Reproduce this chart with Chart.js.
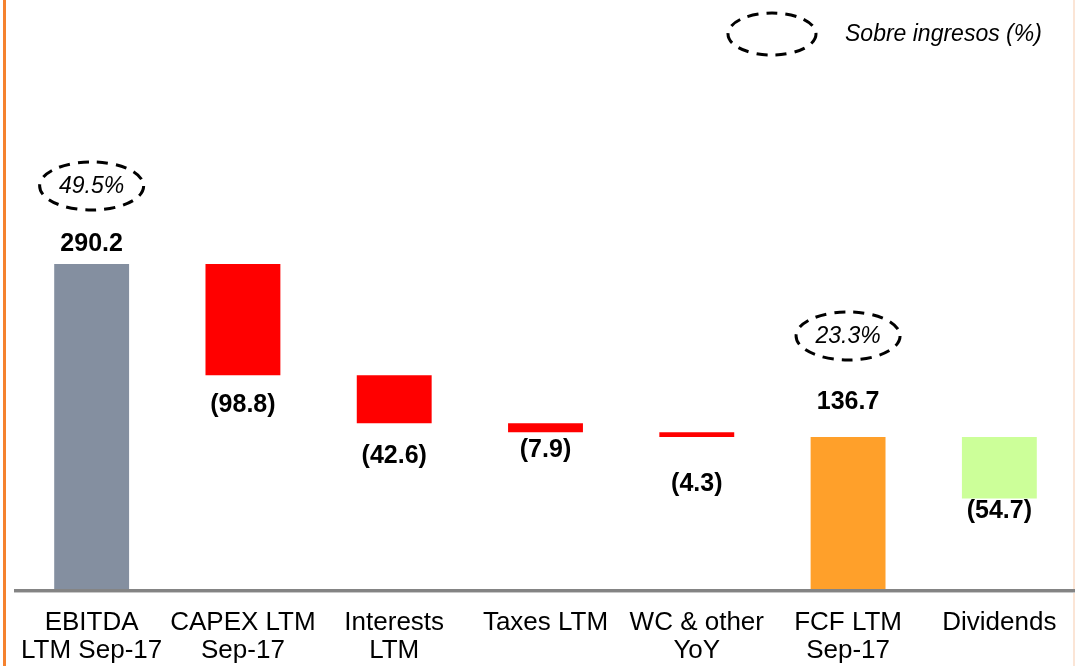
<!DOCTYPE html>
<html>
<head>
<meta charset="utf-8">
<script src="https://cdn.jsdelivr.net/npm/chart.js@4"></script>
<style>
    html, body { margin: 0; padding: 0; background: #fff; overflow: hidden; }
    #wrap { position: relative; width: 1075px; height: 666px; }
</style>
</head>
<body>
<div id="wrap"><canvas id="chart"></canvas></div>
<script>
// Chart data
const categories = [
    ["EBITDA", "LTM Sep-17"],
    ["CAPEX LTM", "Sep-17"],
    ["Interests", "LTM"],
    "Taxes LTM",
    ["WC & other", "YoY"],
    ["FCF LTM", "Sep-17"],
    "Dividends"
];
const totals = [290.2, null, null, null, null, 136.7, null];
const changes = [null, -98.8, -42.6, -7.9, -4.3, null, -54.7];
const valueLabels = ["290.2", "(98.8)", "(42.6)", "(7.9)", "(4.3)", "136.7", "(54.7)"];
const marginLabels = ["49.5%", null, null, null, null, "23.3%", null];
const legendText = "Sobre ingresos (%)";

const barColors = ["#848FA0", "#FF0000", "#FF0000", "#FF0000", "#FF0000", "#FFA02A", "#CCFF99"];

// Build floating ranges for the waterfall
let level = 0;
const ranges = categories.map((_, i) => {
    if (totals[i] !== null) {
        level = totals[i];
        return [0, totals[i]];
    }
    const start = level;
    level = level + changes[i];
    return [level, start];
});

// label offsets (px) from the bar edge: negative = above top, positive = below bottom
const labelOffsets = [-20, 30, 33, 18, 47, -35, 13];
const ellipseOffsets = [78, null, null, null, null, 101, null];

const FONT = "'Liberation Sans', Arial, sans-serif";

function dashedEllipse(ctx, cx, cy, rx, ry) {
    ctx.save();
    ctx.beginPath();
    ctx.ellipse(cx, cy, rx, ry, 0, 0, Math.PI * 2);
    ctx.setLineDash([11, 8]);
    ctx.lineWidth = 3;
    ctx.strokeStyle = "#000";
    ctx.stroke();
    ctx.restore();
}

const annotations = {
    id: "annotations",
    beforeDraw(chart) {
        const { ctx, width, height } = chart;
        ctx.save();
        ctx.fillStyle = "#fff";
        ctx.fillRect(0, 0, width, height);
        // orange frame line on the left, faint one on the right
        ctx.fillStyle = "#F5822F";
        ctx.fillRect(3, 0, 3, height);
        ctx.fillStyle = "#FBE5D6";
        ctx.fillRect(1073, 0, 2, height);
        ctx.restore();
    },
    afterDatasetsDraw(chart) {
        const { ctx } = chart;
        const yScale = chart.scales.y;
        const zero = yScale.getPixelForValue(0);

        // baseline
        ctx.save();
        ctx.fillStyle = "#848484";
        ctx.fillRect(14, zero - 2, 1061, 3);
        ctx.fillStyle = "#C8C8C8";
        ctx.fillRect(14, zero + 1, 1061, 1);
        ctx.restore();

        const meta = chart.getDatasetMeta(0);
        ctx.save();
        ctx.textAlign = "center";
        ctx.textBaseline = "middle";
        meta.data.forEach((bar, i) => {
            const top = Math.min(bar.y, bar.base);
            const bottom = Math.max(bar.y, bar.base);
            const off = labelOffsets[i];
            const y = off < 0 ? top + off : bottom + off;
            ctx.font = "bold 25px " + FONT;
            ctx.fillStyle = "#000";
            ctx.fillText(valueLabels[i], bar.x, y);

            if (marginLabels[i]) {
                const ey = top - ellipseOffsets[i];
                dashedEllipse(ctx, bar.x, ey, 52, 24);
                ctx.font = "italic 23px " + FONT;
                ctx.fillStyle = "#000";
                ctx.fillText(marginLabels[i], bar.x, ey + 1);
            }
        });

        // legend for the ellipses
        dashedEllipse(ctx, 772, 34, 44, 21);
        ctx.textAlign = "left";
        ctx.font = "italic 23px " + FONT;
        ctx.fillText(legendText, 845, 35);
        ctx.restore();
    }
};

const ctx = document.getElementById("chart").getContext("2d");
new Chart(ctx, {
    type: "bar",
    data: {
        labels: categories,
        datasets: [{
            data: ranges,
            backgroundColor: barColors,
            borderWidth: 0,
            categoryPercentage: 1,
            barPercentage: 0.495
        }]
    },
    options: {
        responsive: true,
        maintainAspectRatio: false,
        animation: false,
        layout: { padding: { left: 16, right: 0, top: 0, bottom: 0 } },
        plugins: {
            legend: { display: false },
            tooltip: { enabled: false }
        },
        scales: {
            x: {
                grid: { display: false, drawTicks: false },
                border: { display: false },
                ticks: {
                    color: "#000",
                    padding: 18,
                    maxRotation: 0,
                    autoSkip: false,
                    font: { family: FONT, size: 26, lineHeight: 1.08 }
                },
                afterFit(scale) { scale.height = 75; }
            },
            y: {
                display: false,
                min: 0,
                max: 524.5
            }
        }
    },
    plugins: [annotations]
});
</script>
</body>
</html>
